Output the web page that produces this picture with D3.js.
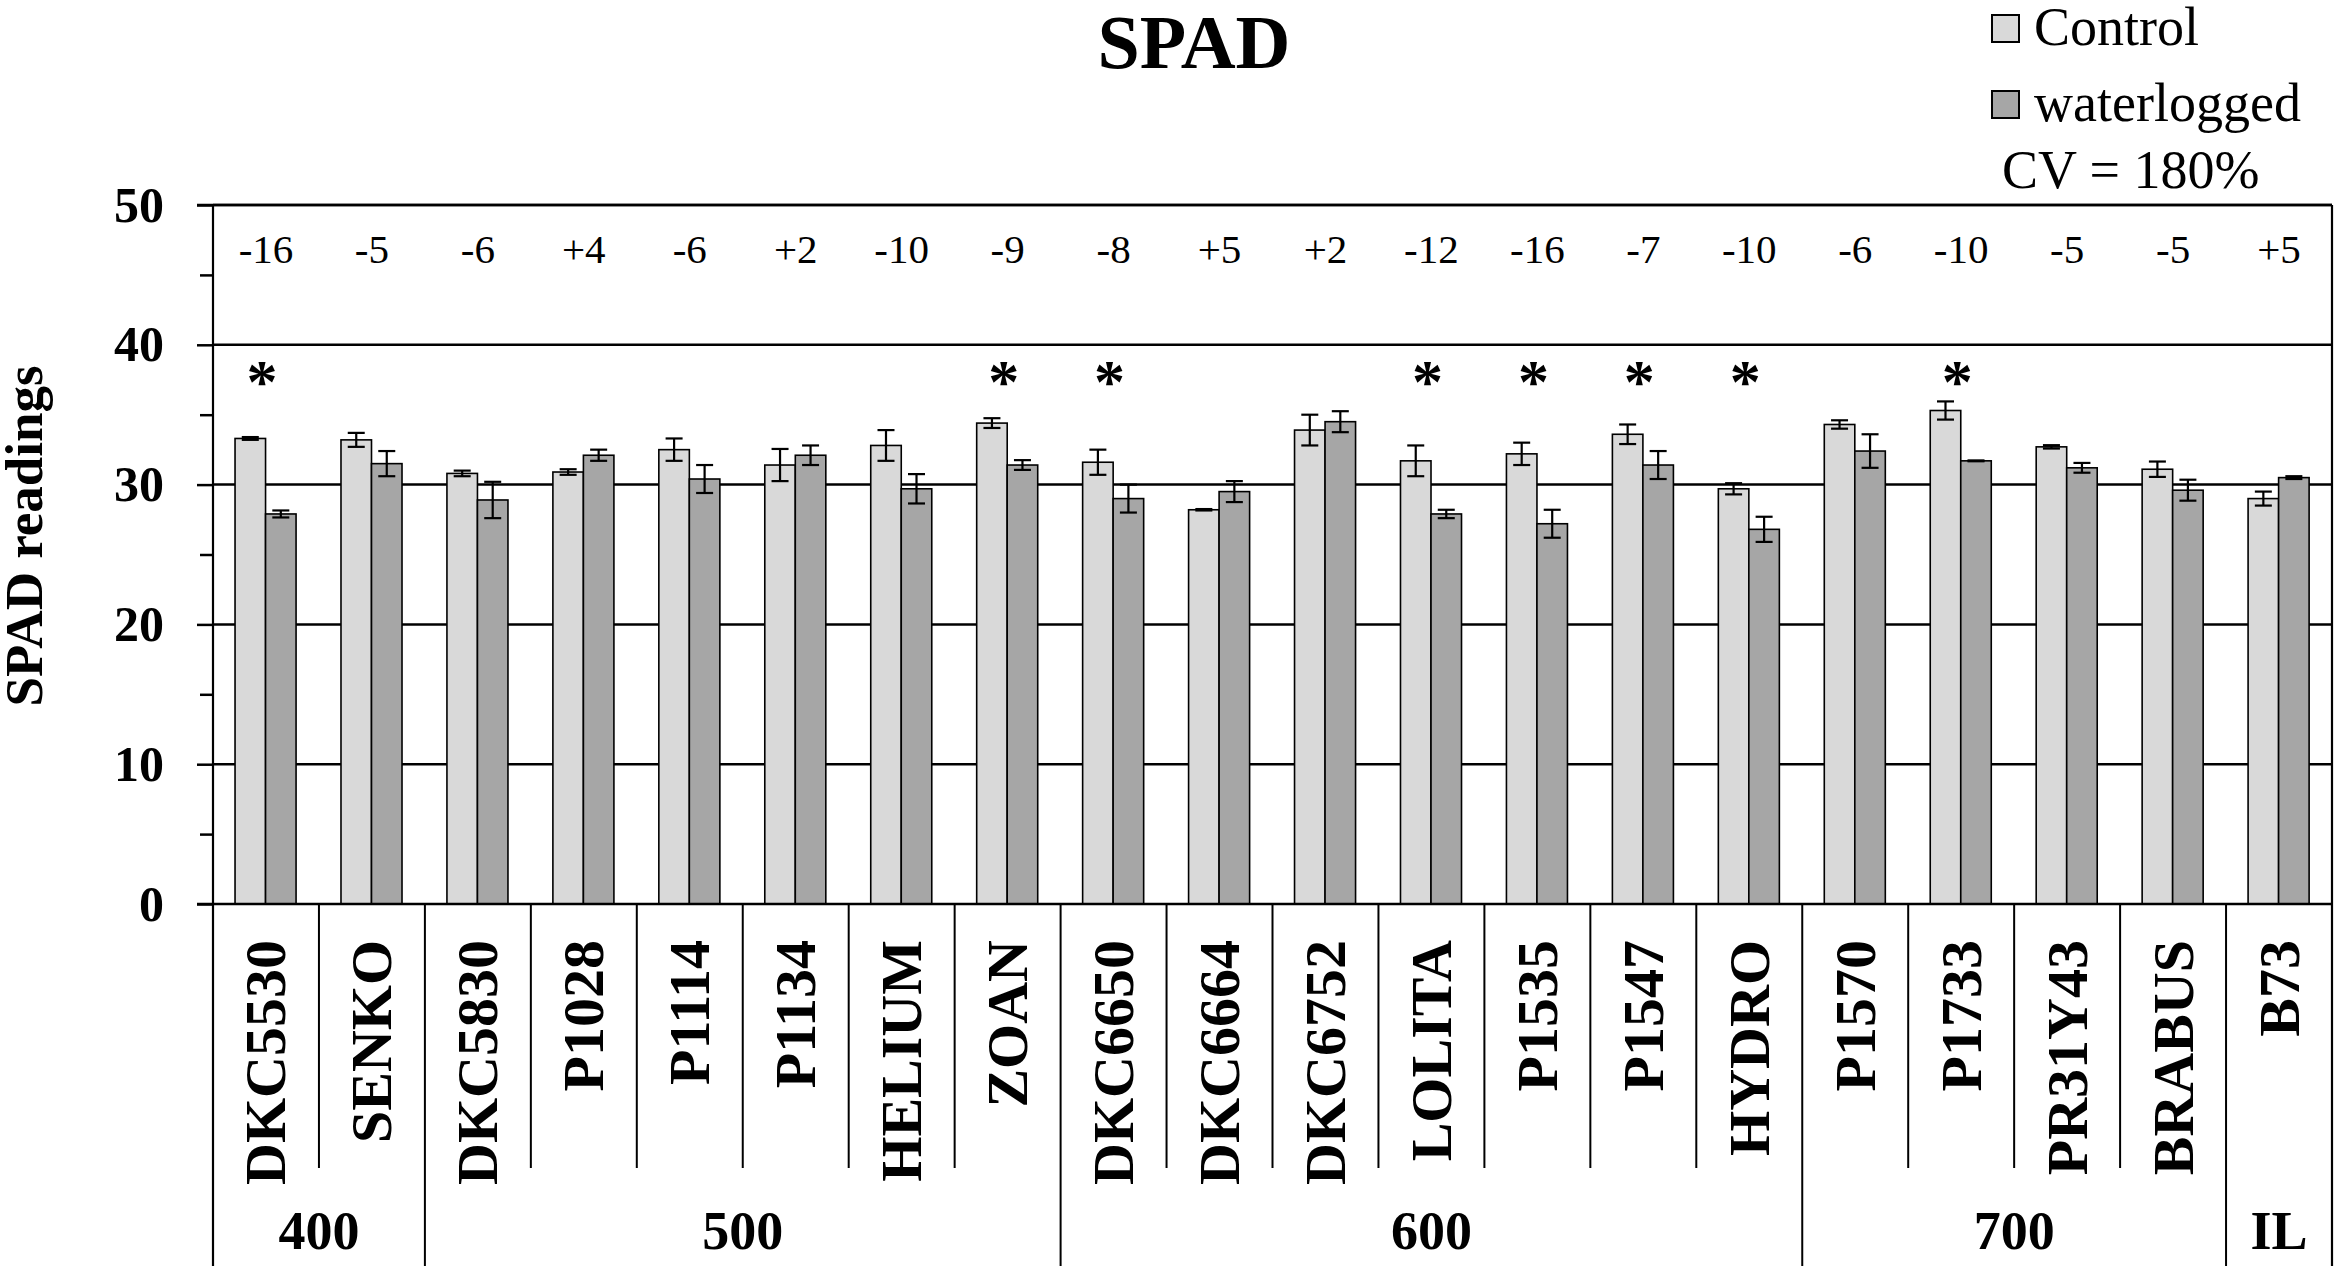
<!DOCTYPE html>
<html>
<head>
<meta charset="utf-8">
<script src="https://cdn.jsdelivr.net/npm/d3@7.9.0/dist/d3.min.js"></script>
<style>
  html, body { margin: 0; padding: 0; background: #fff; }
  svg { display: block; font-family: "Liberation Serif", "Times New Roman", serif; }
</style>
</head>
<body>
<svg id="chart" width="2335" height="1266"></svg>
<script>
// chart values
const cultivars = ['DKC5530', 'SENKO', 'DKC5830', 'P1028', 'P1114', 'P1134', 'HELIUM', 'ZOAN',
  'DKC6650', 'DKC6664', 'DKC6752', 'LOLITA', 'P1535', 'P1547', 'HYDRO',
  'P1570', 'P1733', 'PR31Y43', 'BRABUS', 'B73'];
const controlMeans = [33.3, 33.2, 30.8, 30.9, 32.5, 31.4, 32.8, 34.4, 31.6, 28.2,
  33.9, 31.7, 32.2, 33.6, 29.7, 34.3, 35.3, 32.7, 31.1, 29.0];
const controlErr = [0.1, 0.5, 0.2, 0.2, 0.8, 1.15, 1.1, 0.35, 0.9, 0.05,
  1.1, 1.1, 0.8, 0.7, 0.4, 0.3, 0.65, 0.12, 0.55, 0.5];
const waterMeans = [27.9, 31.5, 28.9, 32.1, 30.4, 32.1, 29.7, 31.4, 29.0, 29.5,
  34.5, 27.9, 27.2, 31.4, 26.8, 32.4, 31.7, 31.2, 29.6, 30.5];
const waterErr = [0.25, 0.9, 1.3, 0.4, 1.0, 0.7, 1.05, 0.35, 1.0, 0.75,
  0.75, 0.3, 1.0, 1.0, 0.9, 1.2, 0.03, 0.35, 0.75, 0.1];
const changeLabels = ['-16', '-5', '-6', '+4', '-6', '+2', '-10', '-9', '-8', '+5',
  '+2', '-12', '-16', '-7', '-10', '-6', '-10', '-5', '-5', '+5'];
const significant = ['DKC5530', 'ZOAN', 'DKC6650', 'LOLITA', 'P1535', 'P1547', 'HYDRO', 'P1733'];
const groupLabels = ['400', '500', '600', '700', 'IL'];
const groupSizes = [2, 6, 7, 4, 1];
const yTicks = [0, 10, 20, 30, 40, 50];
const yMinorTicks = [5, 15, 25, 35, 45];
const seriesNames = ['Control', 'waterlogged'];
const seriesColors = ['#d9d9d9', '#a6a6a6'];

const plotLeft = 213, plotRight = 2332, plotTop = 205, plotBottom = 904, svgH = 1266;

const svg = d3.select('#chart');

const x = d3.scaleBand().domain(cultivars).range([plotLeft, plotRight]).padding(0);
const bw = x.bandwidth();
const xSeries = d3.scaleBand().domain([0, 1]).range([bw * 0.208, bw * 0.784]).padding(0);
const y = d3.scaleLinear().domain([0, 50]).range([plotBottom, plotTop]);

// gridlines
svg.append('g')
  .selectAll('line')
  .data(yTicks.filter(d => d > 0))
  .join('line')
  .attr('x1', plotLeft).attr('x2', plotRight)
  .attr('y1', d => y(d)).attr('y2', d => y(d))
  .attr('stroke', '#000').attr('stroke-width', 2.5);

// bars
const rows = cultivars.map((c, i) => ({
  name: c,
  vals: [[controlMeans[i], controlErr[i]], [waterMeans[i], waterErr[i]]]
}));

const cat = svg.append('g').selectAll('g')
  .data(rows)
  .join('g')
  .attr('transform', d => `translate(${x(d.name)},0)`);

cat.selectAll('rect')
  .data(d => d.vals.map((v, k) => ({ k, v: v[0], e: v[1] })))
  .join('rect')
  .attr('x', d => xSeries(d.k))
  .attr('width', xSeries.bandwidth())
  .attr('y', d => y(d.v))
  .attr('height', d => y(0) - y(d.v))
  .attr('fill', d => seriesColors[d.k])
  .attr('stroke', '#000')
  .attr('stroke-width', 1.6);

// error bars
const capW = 17;
const eb = cat.selectAll('g.err')
  .data(d => d.vals.map((v, k) => ({ k, v: v[0], e: v[1] })))
  .join('g')
  .attr('class', 'err')
  .attr('stroke', '#000')
  .attr('stroke-width', 2.2);
eb.append('line')
  .attr('x1', d => xSeries(d.k) + xSeries.bandwidth() / 2)
  .attr('x2', d => xSeries(d.k) + xSeries.bandwidth() / 2)
  .attr('y1', d => y(d.v + d.e)).attr('y2', d => y(d.v - d.e));
eb.append('line')
  .attr('x1', d => xSeries(d.k) + xSeries.bandwidth() / 2 - capW / 2)
  .attr('x2', d => xSeries(d.k) + xSeries.bandwidth() / 2 + capW / 2)
  .attr('y1', d => y(d.v + d.e)).attr('y2', d => y(d.v + d.e));
eb.append('line')
  .attr('x1', d => xSeries(d.k) + xSeries.bandwidth() / 2 - capW / 2)
  .attr('x2', d => xSeries(d.k) + xSeries.bandwidth() / 2 + capW / 2)
  .attr('y1', d => y(d.v - d.e)).attr('y2', d => y(d.v - d.e));

// frame
svg.append('line').attr('x1', plotLeft - 16).attr('x2', plotRight)
  .attr('y1', plotTop).attr('y2', plotTop).attr('stroke', '#000').attr('stroke-width', 2.5);
svg.append('line').attr('x1', plotRight).attr('x2', plotRight)
  .attr('y1', plotTop).attr('y2', svgH).attr('stroke', '#000').attr('stroke-width', 2.2);
svg.append('line').attr('x1', plotLeft).attr('x2', plotLeft)
  .attr('y1', plotTop).attr('y2', svgH).attr('stroke', '#000').attr('stroke-width', 2.2);
svg.append('line').attr('x1', plotLeft - 16).attr('x2', plotRight)
  .attr('y1', plotBottom).attr('y2', plotBottom).attr('stroke', '#000').attr('stroke-width', 2.5);

// y axis
const yAxis = svg.append('g')
  .attr('transform', `translate(${plotLeft},0)`)
  .call(d3.axisLeft(y).tickValues(yTicks).tickSize(16).tickPadding(33));
yAxis.select('.domain').remove();
yAxis.selectAll('.tick line').attr('stroke', '#000').attr('stroke-width', 2.5);
yAxis.selectAll('.tick text')
  .attr('font-family', '"Liberation Serif", serif')
  .attr('font-size', 50).attr('font-weight', 'bold').attr('fill', '#000');

const yMinor = svg.append('g')
  .attr('transform', `translate(${plotLeft},0)`)
  .call(d3.axisLeft(y).tickValues(yMinorTicks).tickSize(13).tickFormat(''));
yMinor.select('.domain').remove();
yMinor.selectAll('.tick line').attr('stroke', '#000').attr('stroke-width', 2.5);

svg.append('text')
  .attr('transform', 'translate(42,536) rotate(-90)')
  .attr('text-anchor', 'middle')
  .attr('font-size', 53).attr('font-weight', 'bold')
  .text('SPAD readings');

// percent change labels
svg.append('g').selectAll('text')
  .data(cultivars)
  .join('text')
  .attr('x', d => x(d) + bw / 2)
  .attr('y', 263)
  .attr('text-anchor', 'middle')
  .attr('font-size', 41)
  .text((d, i) => changeLabels[i]);

// significance asterisks
svg.append('g').selectAll('text')
  .data(significant)
  .join('text')
  .attr('x', d => x(d) + bw / 2 - 4)
  .attr('y', 402)
  .attr('text-anchor', 'middle')
  .attr('font-size', 62).attr('font-weight', 'bold')
  .text('*');

// category table below the axis
const groupStarts = groupSizes.map((s, i) => d3.sum(groupSizes.slice(0, i)));
svg.append('g').selectAll('line')
  .data(cultivars.slice(1))
  .join('line')
  .attr('x1', d => x(d)).attr('x2', d => x(d))
  .attr('y1', plotBottom)
  .attr('y2', (d, i) => groupStarts.includes(i + 1) ? svgH : 1168)
  .attr('stroke', '#000').attr('stroke-width', 2);

svg.append('g').selectAll('text')
  .data(cultivars)
  .join('text')
  .attr('transform', d => `translate(${x(d) + bw / 2},940) rotate(-90)`)
  .attr('text-anchor', 'end')
  .attr('dominant-baseline', 'central')
  .attr('font-size', 58).attr('font-weight', 'bold')
  .text(d => d);

svg.append('g').selectAll('text')
  .data(groupLabels)
  .join('text')
  .attr('x', (d, i) => {
    const a = x(cultivars[groupStarts[i]]);
    const b = x(cultivars[groupStarts[i] + groupSizes[i] - 1]) + bw;
    return (a + b) / 2;
  })
  .attr('y', 1249)
  .attr('text-anchor', 'middle')
  .attr('font-size', 54).attr('font-weight', 'bold')
  .text(d => d);

// title
svg.append('text')
  .attr('x', 1194).attr('y', 68)
  .attr('text-anchor', 'middle')
  .attr('font-size', 76).attr('font-weight', 'bold')
  .text('SPAD');

// legend
const legend = svg.append('g').attr('transform', 'translate(1992,0)');
const legItems = legend.selectAll('g')
  .data(seriesNames)
  .join('g')
  .attr('transform', (d, i) => `translate(0,${15 + i * 76})`);
legItems.append('rect')
  .attr('width', 27).attr('height', 27)
  .attr('fill', (d, i) => seriesColors[i])
  .attr('stroke', '#000').attr('stroke-width', 2);
legItems.append('text')
  .attr('x', 42).attr('y', 30)
  .attr('font-size', 54)
  .text(d => d);
legend.append('text')
  .attr('x', 10).attr('y', 188)
  .attr('font-size', 54)
  .text('CV = 180%');
</script>
</body>
</html>
